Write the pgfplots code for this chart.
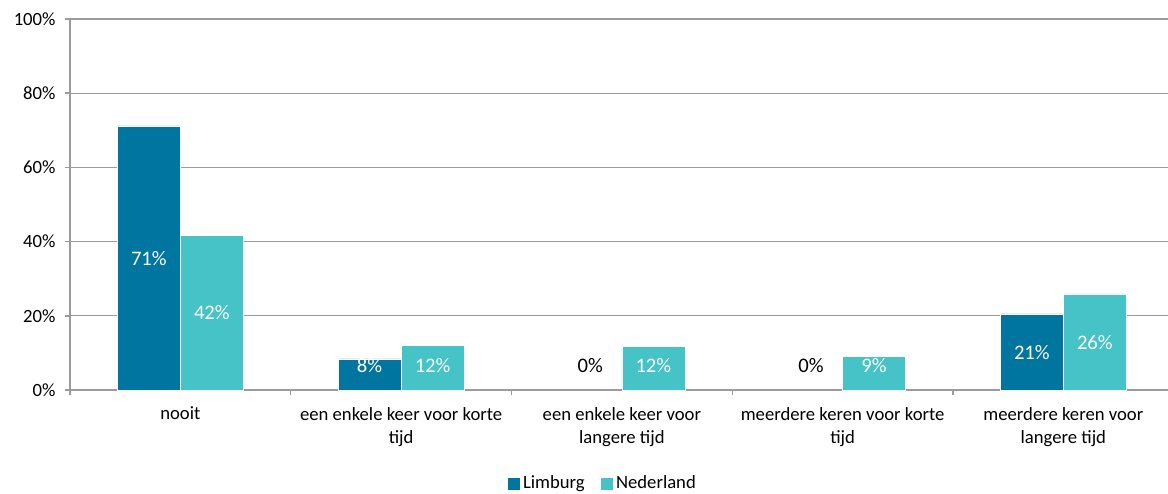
\documentclass[border=0pt]{standalone}
\usepackage{pgfplots}
\pgfplotsset{compat=1.18}
\usepackage{fontspec}
\setmainfont{Carlito}
\definecolor{limburg}{RGB}{0,117,160}
\definecolor{nederland}{RGB}{69,195,199}
\definecolor{axisgray}{RGB}{155,155,155}
\begin{document}
\fontsize{14}{17.25}\selectfont
\begin{tikzpicture}
\path[use as bounding box] (-52.5pt,-77.25pt) rectangle (823.5pt,292.5pt);
\begin{axis}[
  name=ax,
  at={(0,0)}, anchor=south west,
  width=827.8pt, height=278.25pt, scale only axis,
  xmin=-0.5, xmax=4.5, ymin=0, ymax=100,
  axis x line*=bottom, axis y line*=left,
  axis line style={draw=axisgray, line width=1.1pt},
  tick align=outside,
  ytick={0,20,...,100},
  yticklabel={\pgfmathprintnumber[assume math mode=true]{\tick}\%},
  ymajorgrids, grid style={draw=axisgray, line width=0.8pt},
  major tick length=4pt, minor tick length=4pt,
  tick style={draw=axisgray, line width=1.1pt},
  xtick={0,...,4},
  x tick style={draw=none},
  minor xtick={-0.5,0.5,...,4.5},
  minor x tick style={draw=axisgray, line width=1.1pt},
  xticklabels={nooit, een enkele keer voor korte\\tijd, een enkele keer voor\\langere tijd, meerdere keren voor korte\\tijd, meerdere keren voor\\langere tijd},
  xticklabel style={align=center, yshift=-4pt},
  yticklabel style={xshift=-2pt},
  legend style={at={(0.483,-0.253)}, anchor=center, draw=none, legend columns=2,
    font=\fontsize{14}{16}\selectfont,
    /tikz/every even column/.append style={column sep=10pt}},
  legend image code/.code={\fill[#1, draw=none] (0pt,-4.5pt) rectangle (9.5pt,4.5pt);},
  clip=false,
]
\addplot[ybar, bar width=47.25pt, bar shift=-23.625pt, fill=limburg, draw=white, line width=0.4pt]
  coordinates {(0,71.2) (1,8.4) (4,20.5)};
\addlegendentry{Limburg}
\addplot[ybar, bar width=47.25pt, bar shift=23.625pt, fill=nederland, draw=white, line width=0.4pt]
  coordinates {(0,41.6) (1,12.1) (2,11.8) (3,9.1) (4,25.9)};
\addlegendentry{Nederland}
% value labels, centred in the bars
\addplot[draw=none, mark=none, forget plot, nodes near coords, point meta=explicit symbolic,
  every node near coord/.append style={anchor=center, text=white, xshift=-23.625pt, font=\fontsize{15.5}{18}\selectfont}]
  coordinates {(0,35.5)[71\%] (1,6.5)[8\%] (4,10.2)[21\%]};
\addplot[draw=none, mark=none, forget plot, nodes near coords, point meta=explicit symbolic,
  every node near coord/.append style={anchor=center, text=black, xshift=-23.625pt, font=\fontsize{15.5}{18}\selectfont}]
  coordinates {(2,6.5)[0\%] (3,6.5)[0\%]};
\addplot[draw=none, mark=none, forget plot, nodes near coords, point meta=explicit symbolic,
  every node near coord/.append style={anchor=center, text=white, xshift=23.625pt, font=\fontsize{15.5}{18}\selectfont}]
  coordinates {(0,20.8)[42\%] (1,6.5)[12\%] (2,6.5)[12\%] (3,6.5)[9\%] (4,12.9)[26\%]};
\end{axis}
\end{tikzpicture}
\end{document}
